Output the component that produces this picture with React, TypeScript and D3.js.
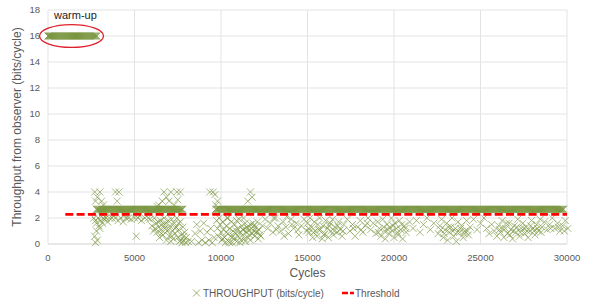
import * as d3 from "d3";

// throughput samples (cycles, bits/cycle)
const warmupRun = [0, 2850];
const warmupValue = 16;
const bandRuns = [[2800, 7800], [9700, 29850]];
const bandValue = 2.67;
const sampleStep = 60;
const threshold = 2.28;
const thresholdRun = [1000, 30000];

const scatterEarly = [
  [2700, 4.0], [2850, 3.6], [3000, 4.0], [3100, 3.3], [2750, 3.3], [3200, 3.0], [3900, 4.0], [4100, 4.0],
  [4000, 3.3], [2650, 2.0], [2750, 1.8], [2800, 1.6], [2900, 2.0], [2950, 1.4], [3050, 1.8], [3100, 2.1],
  [3150, 1.6], [3250, 1.9], [3350, 2.0], [3450, 1.7], [3550, 2.0], [2800, 1.0], [2700, 0.6], [2850, 0.3],
  [2750, 0.1], [3000, 1.2], [3300, 2.1], [3700, 2.0], [3900, 2.0], [4050, 1.8], [4200, 2.0], [4350, 1.7],
  [4500, 2.0], [4650, 2.0], [4800, 1.9], [5000, 2.0], [5200, 2.0], [5400, 1.8], [5100, 0.6], [5600, 2.0],
  [5800, 2.0], [3800, 2.2], [4400, 2.2], [5300, 2.2],
];

const scatterMid = [
  [5900, 1.9], [6000, 1.4], [6100, 1.0], [6150, 2.0], [6250, 1.6], [6300, 0.9], [6400, 1.3], [6450, 0.5],
  [6500, 1.8], [6550, 1.1], [6600, 1.5], [6650, 0.7], [6700, 2.0], [6750, 1.2], [6800, 1.6], [6850, 0.3],
  [6900, 1.0], [6950, 1.8], [7000, 0.6], [7050, 1.4], [7100, 0.2], [7150, 1.9], [7200, 1.0], [7250, 0.4],
  [7300, 1.6], [7350, 0.8], [7400, 1.3], [7450, 2.0], [7500, 0.5], [7550, 1.1], [7600, 0.2], [7650, 1.7],
  [7700, 0.7], [7750, 0.1], [7800, 1.3], [7850, 0.3], [7900, 0.9], [7950, 0.1], [8000, 0.5], [8100, 0.2],
  [6600, 3.3], [6700, 4.0], [6850, 3.6], [7000, 3.3], [7100, 4.0], [7300, 3.0], [7450, 4.0], [7650, 4.0],
  [7500, 3.4], [6400, 3.0], [6300, 2.9],
  [8300, 0.2], [8500, 0.8], [8600, 1.5], [8800, 1.0], [8900, 0.3], [9000, 1.6], [9100, 0.1], [9200, 0.9],
  [9300, 0.3], [9400, 1.2], [9500, 0.1], [9600, 0.5], [8700, 0.1], [9350, 4.0], [9550, 4.0], [9650, 3.8],
  [9800, 3.3], [9700, 3.0],
  [9750, 1.8], [9800, 1.2], [9850, 0.6], [9900, 2.0], [9950, 1.5], [10000, 0.9], [10050, 0.3], [10100, 1.7],
  [10150, 1.1], [10200, 0.5], [10250, 0.1], [10300, 1.4], [10350, 2.0], [10400, 0.8], [10450, 0.2], [10500, 1.2],
  [10550, 0.6], [10600, 1.7], [10650, 0.1], [10700, 1.0], [10750, 0.4], [10800, 1.5], [10850, 0.8], [10900, 0.2],
  [10950, 1.2], [11000, 0.6], [11050, 1.9], [11100, 0.9], [11150, 0.3], [11200, 1.4], [11250, 0.7], [11300, 1.1],
  [11350, 0.4], [11400, 1.6], [11450, 0.9], [11500, 1.3], [11550, 0.5], [11600, 1.0], [11650, 0.7], [11700, 1.5],
  [11750, 1.2], [11800, 0.8], [11850, 1.6], [11900, 1.0], [11950, 0.6], [12000, 1.3], [12050, 0.9], [12100, 1.7],
  [12150, 0.4], [12200, 1.1], [12300, 0.6], [12400, 1.4], [11550, 3.3], [11700, 4.0], [11800, 3.6], [10400, 2.0],
  [10900, 1.8], [11300, 2.0],
  [12550, 1.9], [12700, 1.2], [12850, 1.6], [13000, 0.9], [13150, 2.0], [13300, 1.4], [13450, 1.0], [13600, 1.7],
  [13750, 1.3], [13900, 0.8], [14050, 1.9], [14200, 1.2], [14350, 1.6], [14500, 0.7], [14650, 1.4], [14800, 1.9],
  [14950, 1.0], [13050, 2.0], [13800, 2.1],
];

const scatterLate = [
  [15000, 1.6], [15100, 0.9], [15150, 2.0], [15250, 1.3], [15300, 0.5], [15400, 1.7], [15450, 1.0], [15550, 0.6],
  [15600, 1.5], [15700, 2.0], [15750, 1.1], [15850, 0.4], [15900, 1.4], [16000, 0.8], [16050, 1.8], [16150, 1.2],
  [16200, 0.5], [16300, 1.6], [16350, 1.0], [16450, 1.9], [16500, 0.7], [16600, 1.3], [16700, 0.9], [16800, 1.7],
  [16900, 1.1], [17000, 0.6], [17100, 1.5],
  [17300, 1.9], [17450, 1.0], [17600, 1.5], [17750, 0.6], [17900, 1.3], [18050, 1.8], [18200, 0.9], [18350, 1.4],
  [18500, 2.0], [18650, 1.1], [18800, 1.6], [18950, 0.8],
  [19050, 1.7], [19150, 1.2], [19250, 0.6], [19350, 1.9], [19450, 1.0], [19500, 0.4], [19600, 1.5], [19700, 0.8],
  [19750, 1.3], [19850, 2.0], [19900, 1.0], [20000, 0.5], [20050, 1.6], [20150, 1.2], [20250, 0.7], [20300, 1.8],
  [20400, 1.1], [20500, 0.4], [20600, 1.4], [20700, 0.9],
  [20900, 1.7], [21100, 1.2], [21300, 1.8], [21500, 0.9], [21700, 1.5], [21900, 2.0], [22100, 1.1], [22300, 1.6],
  [22550, 0.8], [22650, 1.4], [22750, 1.9], [22850, 0.5], [22950, 1.1], [23050, 1.6], [23100, 0.3], [23200, 0.9],
  [23300, 1.3], [23350, 2.0], [23450, 0.6], [23550, 1.2], [23600, 0.2], [23700, 1.7], [23800, 0.9], [23900, 1.4],
  [24000, 0.5], [24100, 1.0], [24200, 1.8], [24300, 0.7], [24400, 1.3],
  [24600, 1.9], [24800, 1.1], [25000, 1.6], [25200, 2.0], [25350, 1.2], [25500, 0.8], [25650, 1.5],
  [25800, 1.0], [25950, 0.6], [26050, 1.4], [26150, 0.9], [26250, 1.8], [26350, 0.5], [26450, 1.2], [26550, 0.8],
  [26650, 1.6], [26750, 1.1], [26850, 0.4], [26950, 1.4], [27050, 0.9], [27150, 1.9], [27250, 0.6], [27350, 1.2],
  [27450, 1.6], [27550, 0.8], [27650, 1.3], [27750, 0.5], [27850, 1.0], [27950, 1.8], [28050, 1.2], [28150, 0.7],
  [28250, 1.5], [28350, 1.0], [28450, 1.9], [28550, 1.3],
  [28700, 1.7], [28850, 1.1], [29000, 1.5], [29150, 2.0], [29300, 1.2], [29450, 1.6], [29600, 1.0], [29750, 1.4],
  [29900, 1.8], [30050, 1.2],
];

// second pass over the densest patches of the cloud
const scatterDense = [
  [6200, 1.2], [6350, 1.7], [6550, 0.8], [6750, 1.5], [6950, 1.1], [7150, 0.6], [7350, 1.2], [7550, 1.6],
  [7700, 0.3], [7850, 0.6], [10100, 0.4], [10300, 0.9], [10500, 0.1], [10700, 0.6], [10900, 1.0], [11100, 0.1],
  [11250, 1.1], [11400, 0.2], [11550, 1.2], [11700, 0.3], [11900, 1.4], [12100, 1.0], [12250, 0.7], [13200, 1.1],
  [13650, 0.6], [14100, 1.5], [14450, 1.1], [15050, 1.2], [15350, 0.9], [15650, 1.1], [15950, 0.7], [16250, 1.4],
  [16550, 1.0], [16750, 1.4], [17050, 1.0], [17650, 1.2], [18100, 1.1], [18450, 1.6], [19100, 0.9], [19400, 1.3],
  [19650, 1.1], [19950, 1.4], [20200, 0.9], [20450, 1.5], [20650, 1.2], [22700, 1.1], [22900, 0.8], [23150, 1.3],
  [23400, 1.0], [23650, 0.9], [23850, 1.2], [24050, 0.8], [24250, 1.0], [26100, 1.1], [26300, 1.2], [26500, 1.6],
  [26700, 0.7], [26900, 1.0], [27100, 1.3], [27300, 0.9], [27500, 1.2], [27700, 1.0], [27900, 1.4], [28100, 1.0],
  [28300, 1.2], [28500, 0.9], [29050, 1.2], [29500, 1.3], [29850, 1.0],
];

const xTicks = [0, 5000, 10000, 15000, 20000, 25000, 30000];
const yTicks = [0, 2, 4, 6, 8, 10, 12, 14, 16, 18];

const W = 591, H = 301;
const margin = { top: 10, right: 24, bottom: 57, left: 48 };
const green = "#77933c";
const font = "'Liberation Sans', Arial, sans-serif";
const cross = "M-3.5,-3.5L3.5,3.5M-3.5,3.5L3.5,-3.5";

export default function App() {
  const x = d3.scaleLinear().domain([0, 30000]).range([margin.left, W - margin.right]);
  const y = d3.scaleLinear().domain([0, 18]).range([H - margin.bottom, margin.top]);

  // runs of constant throughput, one marker per sample
  const runPts: number[][] = [];
  d3.range(warmupRun[0], warmupRun[1] + 1, sampleStep).forEach(c => runPts.push([c, warmupValue]));
  bandRuns.forEach(([a, b]) => d3.range(a, b + 1, sampleStep).forEach(c => runPts.push([c, bandValue])));
  const cloud = [...scatterEarly, ...scatterMid, ...scatterLate, ...scatterDense];

  return (
    <svg width={W} height={H} style={{ position: "absolute", left: 0, top: 0 }}>
      <rect width={W} height={H} fill="#fff" />
      {yTicks.map(t => (
        <g key={"y" + t}>
          <line x1={x(0)} x2={x(30000)} y1={y(t)} y2={y(t)} stroke={t === 0 ? "#d0d0d0" : "#e3e3e3"} />
          <text x={margin.left - 8} y={y(t) + 3.3} textAnchor="end" fontSize={9.5} fill="#595959" fontFamily={font}>{t}</text>
        </g>
      ))}
      {xTicks.map(t => (
        <g key={"x" + t}>
          <line x1={x(t)} x2={x(t)} y1={y(0)} y2={y(18)} stroke="#e3e3e3" />
          <text x={x(t)} y={y(0) + 17} textAnchor="middle" fontSize={9.5} fill="#595959" fontFamily={font}>{t}</text>
        </g>
      ))}
      <g stroke={green} strokeWidth={1} strokeOpacity={0.9} fill="none">
        {runPts.map((p, i) => (
          <path key={i} d={cross} transform={`translate(${x(p[0])},${y(p[1])})`} />
        ))}
      </g>
      <g stroke={green} strokeWidth={1} strokeOpacity={0.65} fill="none">
        {cloud.map((p, i) => (
          <path key={i} d={cross} transform={`translate(${x(p[0])},${y(p[1])})`} />
        ))}
      </g>
      <line x1={x(thresholdRun[0])} x2={x(thresholdRun[1])} y1={y(threshold)} y2={y(threshold)}
        stroke="#ff0000" strokeWidth={2.7} strokeDasharray="8,3.3" />
      <ellipse cx={x(1360)} cy={y(16)} rx={x(1360 + 1850) - x(1360)} ry={y(16) - y(16.88)}
        fill="none" stroke="#e0202a" strokeWidth={1.3} />
      <text x={x(350)} y={y(17.3)} fontSize={11} fill="#222" fontFamily={font}>warm-up</text>
      <text transform={`translate(21,${(y(0) + y(18)) / 2}) rotate(-90)`} textAnchor="middle" fontSize={12}
        fill="#595959" fontFamily={font}>Throughput from observer (bits/cycle)</text>
      <text x={(x(0) + x(30000)) / 2} y={277} textAnchor="middle" fontSize={12} fill="#595959" fontFamily={font}>Cycles</text>
      <path d={cross} transform="translate(196.5,293)" stroke={green} strokeWidth={1} strokeOpacity={0.7} fill="none" />
      <text x={203} y={296.5} fontSize={10} fill="#595959" fontFamily={font}>THROUGHPUT (bits/cycle)</text>
      <line x1={342} x2={354} y1={293} y2={293} stroke="#ff0000" strokeWidth={2.7} strokeDasharray="6,2" />
      <text x={355} y={296.5} fontSize={10} fill="#595959" fontFamily={font}>Threshold</text>
    </svg>
  );
}
